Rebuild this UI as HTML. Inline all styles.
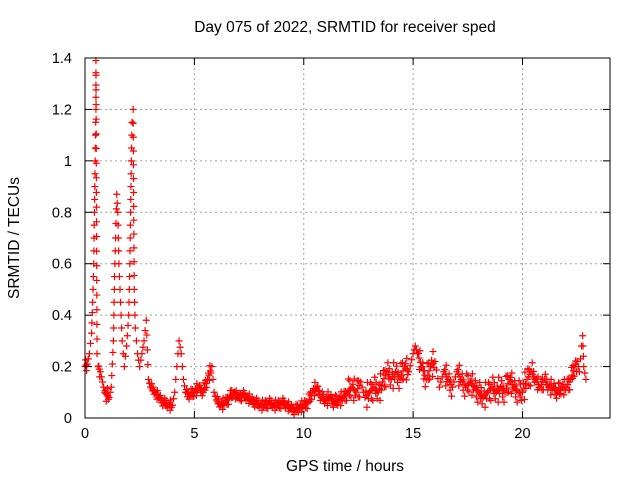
<!DOCTYPE html>
<html><head><meta charset="utf-8"><style>
html,body{margin:0;padding:0;background:#fff}
svg{display:block;font-family:"Liberation Sans",sans-serif}
</style></head><body>
<svg id="c" width="640" height="480">
<rect width="640" height="480" fill="#fff"/>
<text x="345" y="32" font-size="15.5" text-anchor="middle">Day 075 of 2022, SRMTID for receiver sped</text>
<text x="345" y="471" font-size="15.5" text-anchor="middle">GPS time / hours</text>
<text transform="translate(19,238) rotate(-90)" font-size="15.5" text-anchor="middle">SRMTID / TECUs</text>
<g id="grid"></g><g id="marks"></g><g id="axes"></g>
</svg>
<script>
const hours=[0,0.1,0.2,0.3,0.35,0.4,0.42,0.45,0.47,0.5,0.5,0.55,0.6,0.7,0.8,0.9,1.0,1.1,1.2,1.3,1.35,1.4,1.45,1.5,1.55,1.6,1.7,1.8,1.9,2.0,2.05,2.1,2.15,2.2,2.25,2.3,2.4,2.5,2.6,2.7,2.8,2.9,3.0,3.2,3.4,3.6,3.8,4.0,4.1,4.2,4.3,4.4,4.5,4.6,4.8,5.0,5.2,5.4,5.6,5.8,5.9,6.0,6.2,6.4,6.6,6.8,7.0,7.2,7.4,7.6,7.8,8.0,8.2,8.4,8.6,8.8,9.0,9.2,9.4,9.6,9.8,10.0,10.2,10.4,10.6,10.8,11.0,11.2,11.4,11.6,11.8,12.0,12.2,12.4,12.6,12.8,13.0,13.2,13.4,13.6,13.8,14.0,14.2,14.4,14.6,14.8,15.0,15.1,15.2,15.4,15.6,15.8,16.0,16.2,16.4,16.6,16.8,17.0,17.2,17.4,17.6,17.8,18.0,18.2,18.4,18.6,18.8,19.0,19.2,19.4,19.6,19.8,20.0,20.2,20.4,20.6,20.8,21.0,21.2,21.4,21.6,21.8,22.0,22.2,22.4,22.5,22.6,22.7,22.75,22.8,22.9];
const srmtid=[0.2,0.21,0.25,0.33,0.45,0.6,0.75,0.9,1.05,1.2,1.39,0.25,0.2,0.18,0.14,0.1,0.09,0.08,0.12,0.3,0.55,0.7,0.87,0.8,0.6,0.5,0.3,0.2,0.28,0.4,0.6,0.9,1.15,1.2,0.5,0.35,0.25,0.2,0.25,0.3,0.38,0.15,0.12,0.1,0.08,0.06,0.05,0.05,0.1,0.2,0.3,0.25,0.15,0.1,0.09,0.1,0.12,0.1,0.15,0.2,0.1,0.07,0.05,0.06,0.08,0.1,0.08,0.09,0.08,0.07,0.06,0.05,0.05,0.06,0.05,0.05,0.06,0.05,0.04,0.03,0.04,0.05,0.06,0.1,0.12,0.08,0.07,0.08,0.06,0.07,0.08,0.1,0.12,0.1,0.14,0.08,0.1,0.12,0.1,0.14,0.18,0.15,0.18,0.15,0.2,0.18,0.25,0.28,0.25,0.2,0.15,0.2,0.22,0.12,0.18,0.15,0.12,0.18,0.15,0.12,0.14,0.12,0.1,0.08,0.1,0.12,0.1,0.12,0.1,0.15,0.12,0.1,0.1,0.15,0.18,0.15,0.12,0.15,0.12,0.12,0.1,0.12,0.12,0.15,0.2,0.22,0.18,0.28,0.32,0.2,0.15];
const spreadBands=[[0,3,0.03],[3,10.5,0.02],[10.5,12,0.025],[12,20.5,0.045],[20.5,23,0.03]];
const xTicks=[0,5,10,15,20];
const yTicks=[0,0.2,0.4,0.6,0.8,1,1.2,1.4];
const L=85,R=610,T=58,B=418,XMAX=24,YMAX=1.4;
const X=v=>L+v/XMAX*(R-L), Y=v=>B-v/YMAX*(B-T);
const NS="http://www.w3.org/2000/svg";
function mk(tag,attrs,parent){const e=document.createElementNS(NS,tag);for(const k in attrs)e.setAttribute(k,attrs[k]);parent.appendChild(e);return e;}
const grid=document.getElementById('grid'),axes=document.getElementById('axes'),marks=document.getElementById('marks');
xTicks.forEach(t=>{
 if(t>0){const g=mk('line',{x1:X(t),x2:X(t),y1:T,y2:B,stroke:'#a0a0a0','stroke-dasharray':'2,3'},grid);
 
 }
 mk('line',{x1:X(t),x2:X(t),y1:B,y2:B-7,stroke:'#000'},axes);
 mk('line',{x1:X(t),x2:X(t),y1:T,y2:T+7,stroke:'#000'},axes);
 const l=mk('text',{x:X(t),y:B+20,'font-size':14.5,'text-anchor':'middle'},axes);l.textContent=t;
 
 
});
yTicks.forEach(t=>{
 if(t>0&&t<YMAX){const g=mk('line',{x1:L,x2:R,y1:Y(t),y2:Y(t),stroke:'#a0a0a0','stroke-dasharray':'2,3'},grid);
 
 }
 mk('line',{x1:L,x2:L+7,y1:Y(t),y2:Y(t),stroke:'#000'},axes);
 mk('line',{x1:R,x2:R-7,y1:Y(t),y2:Y(t),stroke:'#000'},axes);
 const l=mk('text',{x:L-13,y:Y(t)+5,'font-size':14.5,'text-anchor':'end'},axes);l.textContent=t;
 
 
});
const fr=mk('rect',{x:L,y:T,width:R-L,height:B-T,fill:'none',stroke:'#000'},axes);


function plus(x,y){const p=mk('path',{d:`M${x-3.5},${y}h7M${x},${y-3.5}v7`,stroke:'#f00','stroke-width':1.2},marks);
 
 }
function spreadAt(h){for(const b of spreadBands)if(h>=b[0]&&h<b[1])return b[2];return 0.03;}
let cnt=0;
for(let i=0;i<hours.length;i++){
 const x0=X(hours[i]),y0=Y(srmtid[i]);plus(x0,y0);
 if(i+1<hours.length){const x1=X(hours[i+1]),y1=Y(srmtid[i+1]);
  const n=Math.max(1,Math.ceil(Math.max(Math.abs(x1-x0)/1.5,Math.abs(y1-y0)/15)));
  const steep=Math.abs(y1-y0)>Math.abs(x1-x0)*3;
  for(let k=1;k<n;k++){
   cnt++;
   const x=x0+(x1-x0)*k/n,y=y0+(y1-y0)*k/n;plus(x,y);
   if(!steep){const h=hours[i]+(hours[i+1]-hours[i])*k/n;const s=spreadAt(h)/YMAX*(B-T);
    const a=(cnt%3)/2;plus(x+0.5,Math.min(B,y+s*(0.4+a*0.6)));plus(x-0.5,y-s*(0.4+(1-a)*0.6));}
  }}
}
</script>
</body></html>
